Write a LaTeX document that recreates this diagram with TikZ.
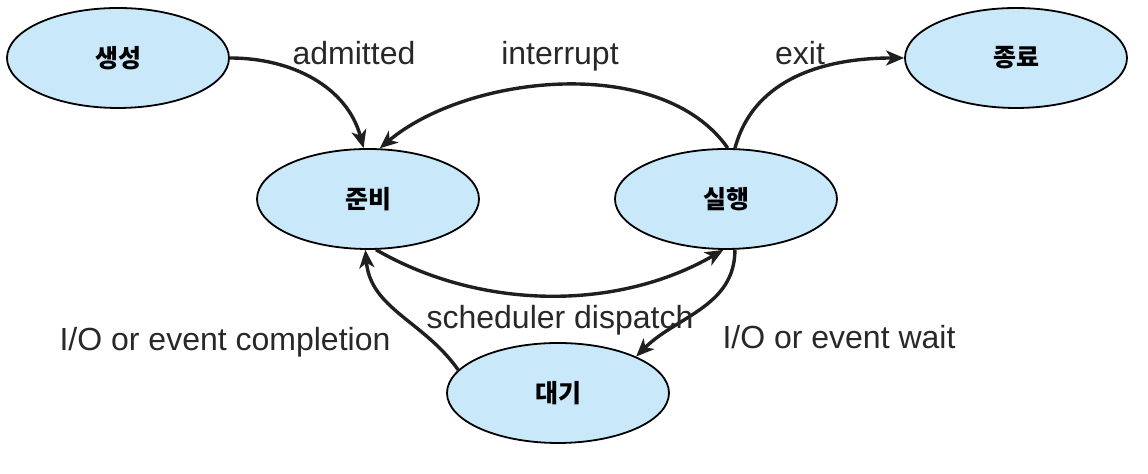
\documentclass[tikz,border=0pt]{standalone}
\usepackage{fontspec}
\setmainfont{Liberation Sans}
\newfontfamily\kr{Noto Sans CJK KR}
\usepackage{xcolor}
\usepackage{tikz}
\usetikzlibrary{shapes,arrows.meta,positioning}
\definecolor{statefill}{RGB}{201,232,250}
\definecolor{txtgray}{RGB}{40,40,40}

\begin{document}
\begin{tikzpicture}[x=0.5pt,y=0.5pt,
    state/.style={ellipse, draw, line width=0.9pt, fill=statefill,
      minimum width=111pt, minimum height=50pt, inner sep=0pt,
      font=\kr\bfseries\fontsize{12.5}{13}\selectfont},
    trans/.style={-{Stealth[length=9pt,width=7.5pt,inset=2.5pt]}, line width=1.7pt, draw=black!88},
    lbl/.style={anchor=base, text=txtgray, font=\fontsize{16}{18}\selectfont}]
    \useasboundingbox (0,0) rectangle (1148,474);

    % states
    \node[state] (new)  at (118,416) {생성};
    \node[state] (ready) at (368,275) {준비};
    \node[state] (run)  at (726,275) {실행};
    \node[state] (done) at (1016,416) {종료};
    \node[state] (wait) at (558,81) {대기};

    % transitions
    \draw[trans] (new.east) to[out=0,in=105] (ready.95);
    \draw[trans] (run.88) to[out=125,in=40,looseness=0.85] (ready.77);
    \draw[trans] (run.80) to[out=75,in=180] (done.west);
    \draw[trans] (ready.-81) to[out=-30,in=-150,looseness=0.9] (run.-93);
    \draw[trans] (run.-80) to[out=-90,in=45] (wait.25);
    \draw[trans] (wait.167) to[out=125,in=-85] (ready.-93);

    % labels
    \node[lbl] (l-adm)  at (354,409) {admitted};
    \node[lbl] (l-int)  at (560,409) {interrupt};
    \node[lbl] (l-exit) at (800,409) {exit};
    \node[lbl] (l-disp) at (560,145) {scheduler dispatch};
    \node[lbl] (l-comp) at (225,123) {I/O or event completion};
    \node[lbl] (l-wait) at (839,125) {I/O or event wait};
\end{tikzpicture}
\end{document}
